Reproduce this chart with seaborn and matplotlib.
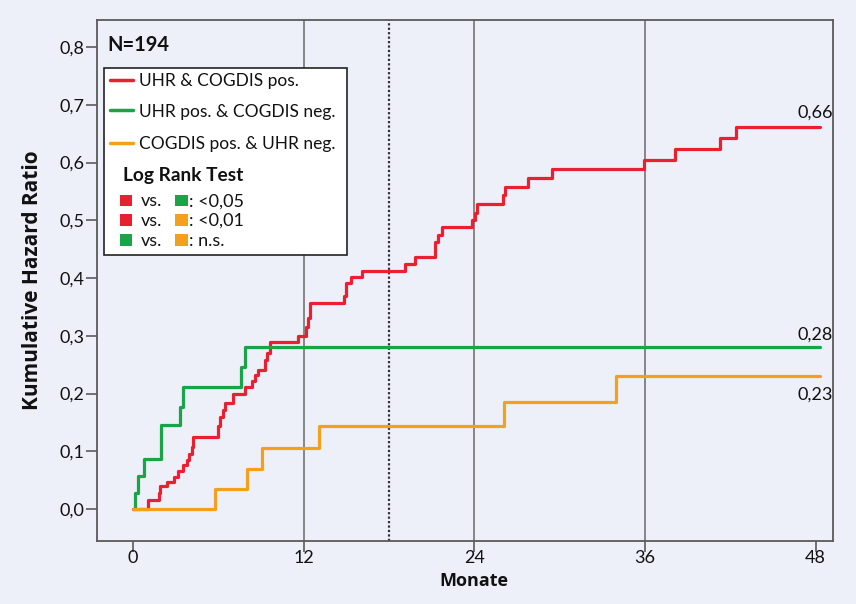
import numpy as np
import pandas as pd
import matplotlib
matplotlib.use("Agg")
import matplotlib.pyplot as plt
import seaborn as sns
from matplotlib.patches import Rectangle
from matplotlib.lines import Line2D

# ---------------- data ----------------
series_names = ["UHR & COGDIS pos.", "UHR pos. & COGDIS neg.", "COGDIS pos. & UHR neg."]

red_t = [0, 1.08, 1.8, 1.9, 2.37, 2.9, 3.2, 3.54, 3.77, 3.94, 4.13, 4.24, 6.0, 6.15, 6.3,
         6.47, 7.05, 7.85, 8.35, 8.6, 8.8, 9.28, 9.4, 9.63, 11.6, 12.2, 12.33, 12.45, 14.86,
         14.96, 15.33, 16.08, 19.13, 19.83, 21.24, 21.47, 21.71, 23.82, 24.05, 24.17, 26.04,
         26.16, 27.8, 29.5, 35.94, 38.1, 41.28, 42.4, 48.3]
red_v = [0, 0.016, 0.027, 0.040, 0.047, 0.056, 0.065, 0.076, 0.085, 0.096, 0.108, 0.125, 0.143,
         0.160, 0.171, 0.183, 0.200, 0.211, 0.222, 0.232, 0.241, 0.258, 0.270, 0.290, 0.300,
         0.315, 0.330, 0.356, 0.368, 0.391, 0.401, 0.413, 0.425, 0.436, 0.463, 0.474, 0.488,
         0.500, 0.512, 0.529, 0.544, 0.558, 0.573, 0.588, 0.605, 0.623, 0.642, 0.661, 0.661]

green_t = [0, 0.12, 0.37, 0.77, 2.0, 3.3, 3.55, 7.6, 7.9, 48.3]
green_v = [0, 0.028, 0.057, 0.087, 0.146, 0.177, 0.211, 0.246, 0.280, 0.280]

orange_t = [0, 5.8, 8.0, 9.1, 13.1, 26.1, 34.0, 48.3]
orange_v = [0, 0.035, 0.070, 0.106, 0.143, 0.185, 0.230, 0.230]

end_labels = ["0,66", "0,28", "0,23"]
end_label_y = [0.677, 0.293, 0.190]

x_ticks = [0, 12, 24, 36, 48]
y_ticks = [0.0, 0.1, 0.2, 0.3, 0.4, 0.5, 0.6, 0.7, 0.8]
y_tick_labels = ["0,0", "0,1", "0,2", "0,3", "0,4", "0,5", "0,6", "0,7", "0,8"]
ref_lines = [12, 24, 36]
landmark = 18

test_rows = [("red", "green", ": <0,05"), ("red", "orange", ": <0,01"), ("green", "orange", ": n.s.")]

# ---------------- style ----------------
colors = {"red": "#e8202f", "green": "#18a447", "orange": "#f5a01c"}
palette = dict(zip(series_names, [colors["red"], colors["green"], colors["orange"]]))
bg = "#edf0f8"
spine_c = "#5a5a5a"
txt_c = "#111111"

sns.set_theme(style="white")
plt.rcParams["font.family"] = ["Lato", "DejaVu Sans"]

df = pd.concat([
    pd.DataFrame({"Monate": red_t, "HR": red_v, "Gruppe": series_names[0]}),
    pd.DataFrame({"Monate": green_t, "HR": green_v, "Gruppe": series_names[1]}),
    pd.DataFrame({"Monate": orange_t, "HR": orange_v, "Gruppe": series_names[2]}),
], ignore_index=True)

W, H = 856, 604
fig = plt.figure(figsize=(W / 100, H / 100), dpi=100, facecolor=bg)
ax = fig.add_axes([97 / W, 1 - 541 / H, 736 / W, 521 / H])
ax.set_facecolor(bg)

for x in ref_lines:
    ax.axvline(x, color="#7d7d7d", lw=1.3, zorder=1)
ax.axvline(landmark, color="#333333", lw=1.6, ls=(0, (1, 1)), zorder=1)

sns.lineplot(data=df, x="Monate", y="HR", hue="Gruppe", hue_order=series_names,
             palette=palette, estimator=None, sort=False, drawstyle="steps-post",
             linewidth=2.3, legend=False, ax=ax, zorder=3)

ax.set_xlim(-2.53, 49.23)
ax.set_ylim(-0.0554, 0.8468)
ax.set_xticks(x_ticks)
ax.set_xticklabels([str(v) for v in x_ticks])
ax.set_yticks(y_ticks)
ax.set_yticklabels(y_tick_labels)
ax.tick_params(bottom=True, left=True, direction="out", length=8, width=1.2,
               color=spine_c, labelsize=13, labelcolor=txt_c)
ax.tick_params(axis="x", pad=-1.5)
ax.tick_params(axis="y", pad=1)
for s in ax.spines.values():
    s.set_visible(True)
    s.set_color(spine_c)
    s.set_linewidth(1.3)
ax.set_xlabel("")
ax.set_ylabel("")

bold_font = ["Open Sans", "DejaVu Sans"]
fig.text(33 / W, 1 - 280 / H, "Kumulative Hazard Ratio", rotation=90, ha="center",
         va="center", fontsize=15, fontweight="bold", color=txt_c, family=bold_font)
fig.text(474 / W, 1 - 581 / H, "Monate", ha="center", va="center", fontsize=13,
         fontweight="bold", color=txt_c, family=bold_font)

for lab, yv in zip(end_labels, end_label_y):
    ax.text(48, yv, lab, ha="center", va="baseline", fontsize=13, color=txt_c, zorder=4)

# ---------------- legend ----------------
def fx(px):
    return (px - 97) / 736

def fy(py):
    return (541 - py) / 521

T = ax.transAxes
ax.text(fx(107), fy(45), "N=194", transform=T, ha="left", va="center", fontsize=14.5,
        fontweight="bold", color=txt_c)
ax.add_patch(Rectangle((fx(104), fy(255)), fx(347) - fx(104), fy(68) - fy(255), transform=T,
                       facecolor="white", edgecolor="#222222", lw=1.2, zorder=5))
row_y = [79.5, 110, 143]
for name, py in zip(series_names, row_y):
    ax.add_line(Line2D([fx(110), fx(133)], [fy(py), fy(py)], transform=T,
                       color=palette[name], lw=2.5, zorder=6))
    ax.text(fx(139), fy(py + 1.5), name, transform=T, ha="left", va="center",
            fontsize=12.5, color=txt_c, zorder=6)
ax.text(fx(123), fy(175), "Log Rank Test", transform=T, ha="left", va="center",
        fontsize=13.8, fontweight="bold", color=txt_c, zorder=6)
sq_w, sq_h = 12.5, 11.5
for (c1, c2, lab), py in zip(test_rows, [200.5, 220, 240]):
    ax.add_patch(Rectangle((fx(119.5), fy(py + sq_h / 2)), sq_w / 736, sq_h / 521,
                           transform=T, facecolor=colors[c1], edgecolor="none", zorder=6))
    ax.text(fx(140.5), fy(py + 1), "vs.", transform=T, ha="left", va="center",
            fontsize=13, color=txt_c, zorder=6)
    ax.add_patch(Rectangle((fx(175), fy(py + sq_h / 2)), sq_w / 736, sq_h / 521,
                           transform=T, facecolor=colors[c2], edgecolor="none", zorder=6))
    ax.text(fx(189), fy(py + 1), lab, transform=T, ha="left", va="center",
            fontsize=13, color=txt_c, zorder=6)

fig.savefig("out.png", dpi=100, facecolor=bg)
